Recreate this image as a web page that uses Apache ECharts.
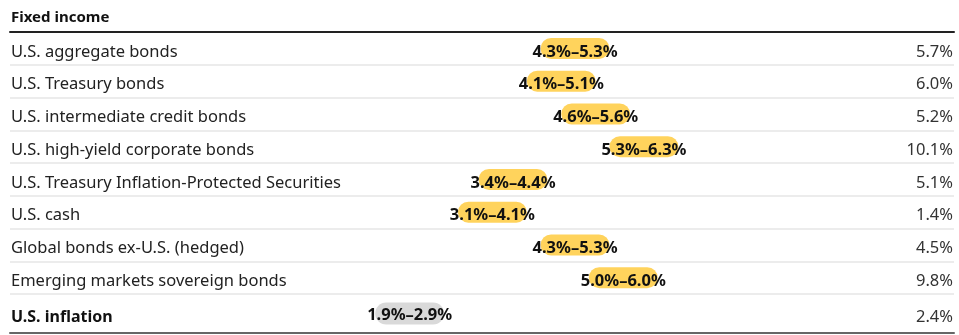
<!DOCTYPE html>
<html>
<head>
<meta charset="utf-8">
<script src="https://cdn.jsdelivr.net/npm/echarts@6/dist/echarts.min.js"></script>
<style>
html,body{margin:0;padding:0;background:#fff;}
#c{width:959px;height:335px;}
</style>
</head>
<body>
<div id="c"></div>
<script>
const title = 'Fixed income';
const categories = [
  'U.S. aggregate bonds',
  'U.S. Treasury bonds',
  'U.S. intermediate credit bonds',
  'U.S. high-yield corporate bonds',
  'U.S. Treasury Inflation-Protected Securities',
  'U.S. cash',
  'Global bonds ex-U.S. (hedged)',
  'Emerging markets sovereign bonds'
];
const lows  = [4.3, 4.1, 4.6, 5.3, 3.4, 3.1, 4.3, 5.0];
const highs = [5.3, 5.1, 5.6, 6.3, 4.4, 4.1, 5.3, 6.0];
const rightValues = [5.7, 6.0, 5.2, 10.1, 5.1, 1.4, 4.5, 9.8];

const inflationCategory = ['U.S. inflation'];
const inflationLows = [1.9];
const inflationHighs = [2.9];
const inflationRight = [2.4];

const FONT = 'Noto Sans';
const pct = v => v.toFixed(1) + '%';
const rangeLabel = (lo, hi) => pct(lo) + '\u2013' + pct(hi);

const xMin = -3.4, xMax = 10.3;

const chart = echarts.init(document.getElementById('c'), null, {renderer: 'canvas'});

function xAxisDef(gridIndex, position, lineColor) {
  return {
    type: 'value', gridIndex, min: xMin, max: xMax, position,
    axisLine: {show: !!lineColor, onZero: false, lineStyle: {color: lineColor || '#000', width: 2}},
    axisTick: {show: false}, axisLabel: {show: false}, splitLine: {show: false}
  };
}

function labelAxis(gridIndex, data, position, extra) {
  return {
    type: 'category', gridIndex, data, inverse: true, position,
    axisLine: {show: false}, axisTick: {show: false}, splitLine: {show: false},
    axisLabel: Object.assign({inside: true, margin: 1, fontFamily: FONT, fontSize: 16.5, color: '#222'}, extra || {})
  };
}

const option = {
  animation: false,
  backgroundColor: '#ffffff',
  title: {
    text: title, left: 6, top: 5,
    textStyle: {fontFamily: FONT, fontWeight: 'bold', fontSize: 15, color: '#111'}
  },
  grid: [
    {left: 10, right: 5, top: 32, height: 262},     // 0: rows, separators, pills
    {left: 10, right: 5, top: 294, height: 39},     // 1: inflation row
    {left: 10, right: 5, top: 35.5, height: 262},   // 2: row text
    {left: 10, right: 5, top: 299, height: 39}      // 3: inflation text
  ],
  xAxis: [
    xAxisDef(0, 'top', '#222'),
    xAxisDef(1, 'bottom', '#666'),
    xAxisDef(2, 'bottom', null),
    xAxisDef(3, 'bottom', null)
  ],
  yAxis: [
    {
      type: 'category', gridIndex: 0, data: categories, inverse: true,
      axisLine: {show: false}, axisTick: {show: false}, axisLabel: {show: false},
      splitLine: {show: true, lineStyle: {color: '#e6e6e6', width: 1.5}}
    },
    {
      type: 'category', gridIndex: 1, data: inflationCategory, inverse: true,
      axisLine: {show: false}, axisTick: {show: false}, axisLabel: {show: false},
      splitLine: {show: false}
    },
    labelAxis(2, categories, 'left'),
    labelAxis(2, rightValues.map(pct), 'right', {color: '#333'}),
    labelAxis(3, inflationCategory, 'left', {fontSize: 16, fontWeight: 'bold', color: '#111'}),
    labelAxis(3, inflationRight.map(pct), 'right', {color: '#333'})
  ],
  series: [
    {
      type: 'bar', xAxisIndex: 0, yAxisIndex: 0, stack: 'r', silent: true,
      data: lows, barWidth: 21,
      itemStyle: {color: 'transparent'}
    },
    {
      type: 'bar', xAxisIndex: 0, yAxisIndex: 0, stack: 'r', silent: true,
      data: highs.map((h, i) => +(h - lows[i]).toFixed(2)), barWidth: 21,
      itemStyle: {color: '#FFD35C', borderRadius: 10.5},
      label: {
        show: true, position: 'inside', offset: [0, 3.5],
        formatter: p => rangeLabel(lows[p.dataIndex], highs[p.dataIndex]),
        fontFamily: FONT, fontWeight: 'bold', fontSize: 16.5, color: '#111'
      }
    },
    {
      type: 'bar', xAxisIndex: 1, yAxisIndex: 1, stack: 'i', silent: true,
      data: inflationLows, barWidth: 22,
      itemStyle: {color: 'transparent'}
    },
    {
      type: 'bar', xAxisIndex: 1, yAxisIndex: 1, stack: 'i', silent: true,
      data: inflationHighs.map((h, i) => +(h - inflationLows[i]).toFixed(2)), barWidth: 22,
      itemStyle: {color: '#D9D9D9', borderRadius: 11},
      label: {
        show: true, position: 'inside', offset: [0, 1.5],
        formatter: p => rangeLabel(inflationLows[p.dataIndex], inflationHighs[p.dataIndex]),
        fontFamily: FONT, fontWeight: 'bold', fontSize: 16.5, color: '#111'
      }
    }
  ]
};
chart.setOption(option);
</script>
</body>
</html>
